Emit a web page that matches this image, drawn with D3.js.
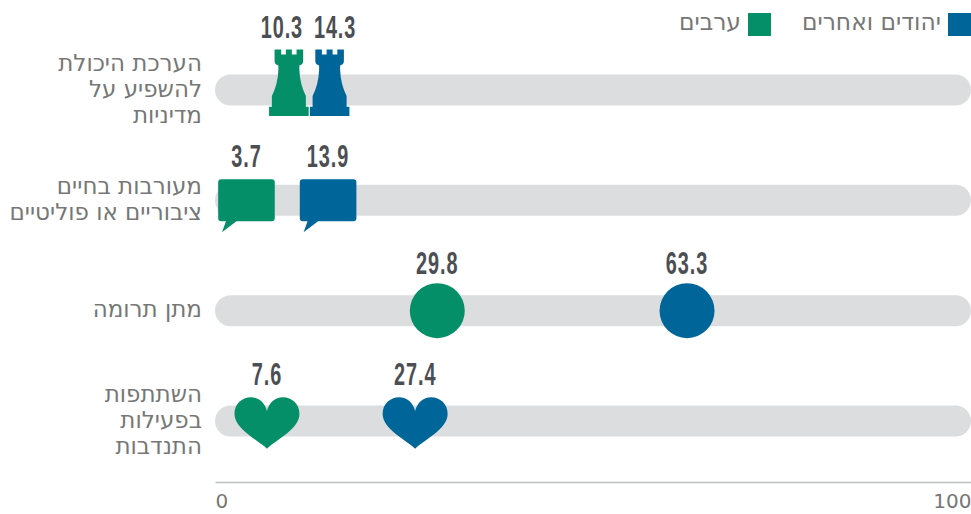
<!DOCTYPE html>
<html>
<head>
<meta charset="utf-8">
<script src="https://cdn.jsdelivr.net/npm/d3@7"></script>
<style>
  body { margin: 0; background: #fff; }
  svg { display: block; }
  text { font-family: "DejaVu Sans", "Liberation Sans", sans-serif; }
  .num { font-family: "Liberation Sans Narrow", "Liberation Sans", sans-serif; font-weight: 700; fill: #4b4e52; font-size: 31px; letter-spacing: 1.5px; text-anchor: middle; }
</style>
</head>
<body>
<div id="chart"></div>
<script>
// data
var categories = [
    ["הערכת היכולת", "להשפיע על", "מדיניות"],
    ["מעורבות בחיים", "ציבוריים או פוליטיים"],
    ["מתן תרומה"],
    ["השתתפות", "בפעילות", "התנדבות"]
];
var arabs = [10.3, 3.7, 29.8, 7.6];
var jews = [14.3, 13.9, 63.3, 27.4];
var seriesNames = ["יהודים ואחרים", "ערבים"];
var tickValues = [0, 100];

var width = 971, height = 514;
var green = "#058f69", blue = "#006699";

var svg = d3.select("#chart").append("svg")
    .attr("width", width)
    .attr("height", height);

var x = d3.scaleLinear().domain([0, 100]).range([215, 971]);
var y = d3.scalePoint().domain(d3.range(categories.length)).range([90, 421]);

// icon shapes, drawn around the center of the mark
var rook = "M-14.3,-40.6H-7.7V-35.6H-3V-40.6H3V-35.6H7.7V-40.6H14.3V-29Q14.3,-25.5 10.5,-24.5L10.5,-20Q11,-6 17,6V16.7H19.8V26H-19.8V16.7H-17V6Q-11,-6 -10.5,-20L-10.5,-24.5Q-14.3,-25.5 -14.3,-29Z";
var bubble = "M-25.3,-21H25.3Q28.3,-21 28.3,-18V18Q28.3,21 25.3,21H-10L-24.5,32L-20.5,21H-25.3Q-28.3,21 -28.3,18V-18Q-28.3,-21 -25.3,-21Z";
var circle = d3.arc()({innerRadius: 0, outerRadius: 27.5, startAngle: 0, endAngle: 2 * Math.PI});
var heart = "M0,27.7C-9,19 -32.5,8 -32.5,-7C-32.5,-17 -25,-23.7 -16,-23.7C-8,-23.7 -2,-18 0,-10C2,-18 8,-23.7 16,-23.7C25,-23.7 32.5,-17 32.5,-7C32.5,8 9,19 0,27.7Z";

// the original shifts its icons so they do not collide: [arab shift, jew shift]
var icons = [
    {path: rook, shift: [-4, 6.5], labelShift: [-7, 5.5], labelY: -52},
    {path: bubble, shift: [3.5, 8], labelShift: [0, 0], labelY: -33},
    {path: circle, shift: [-3, -6.5], labelShift: [0, 0], labelY: -37},
    {path: heart, shift: [-5.5, -7], labelShift: [0, 0], labelY: -36}
];

// grey tracks
svg.selectAll(".track")
    .data(categories)
    .enter().append("rect")
    .attr("class", "track")
    .attr("x", x(0))
    .attr("y", function(d, i) { return y(i) - 15.5; })
    .attr("width", x(100) - x(0))
    .attr("height", 31)
    .attr("rx", 15.5)
    .style("fill", "#dcddDf");

// category labels
var labels = svg.selectAll(".cat")
    .data(categories)
    .enter().append("text")
    .attr("class", "cat")
    .attr("direction", "rtl")
    .style("font-size", "23px")
    .style("fill", "#777")
    .style("text-anchor", "start");

labels.selectAll("tspan")
    .data(function(d, i) { return d.map(function(t, j) { return {t: t, j: j, n: d.length, i: i}; }); })
    .enter().append("tspan")
    .attr("x", 202)
    .attr("y", function(d) { return y(d.i) + 6.5 + (d.j - (d.n - 1) / 2) * 26; })
    .text(function(d) { return d.t; });

// marks and value labels for one series
function drawSeries(values, color, s) {
    var g = svg.append("g");
    values.forEach(function(v, i) {
        var icon = icons[i];
        var cx = x(v) + icon.shift[s];
        g.append("path")
            .attr("d", icon.path)
            .attr("transform", "translate(" + cx + "," + y(i) + ")")
            .style("fill", color);
        g.append("text")
            .attr("class", "num")
            .attr("transform", "translate(" + (cx + icon.labelShift[s]) + "," + (y(i) + icon.labelY) + ") scale(0.64,1)")
            .text(v);
    });
}
drawSeries(arabs, green, 0);
drawSeries(jews, blue, 1);

// legend
var legend = svg.selectAll(".legend")
    .data(seriesNames)
    .enter().append("g")
    .attr("class", "legend")
    .attr("transform", function(d, i) { return "translate(" + (971 - i * 200) + ",13)"; });

legend.append("rect")
    .attr("x", -23)
    .attr("width", 23)
    .attr("height", 23)
    .style("fill", function(d, i) { return i === 0 ? blue : green; });

legend.append("text")
    .attr("x", -30)
    .attr("y", 17)
    .attr("direction", "rtl")
    .style("font-size", "23.4px")
    .style("fill", "#777")
    .style("text-anchor", "start")
    .text(function(d) { return d; });

// axis
var axis = svg.append("g")
    .attr("transform", "translate(0,482)")
    .call(d3.axisBottom(x).tickValues(tickValues).tickSize(0).tickPadding(12));

axis.select(".domain").style("stroke", "#bdbec0").style("stroke-width", 1.5);
axis.selectAll("text")
    .style("font-family", "'DejaVu Sans', sans-serif")
    .style("font-size", "20px")
    .style("fill", "#777")
    .style("text-anchor", function(d) { return d === 0 ? "start" : "end"; });
</script>
</body>
</html>
